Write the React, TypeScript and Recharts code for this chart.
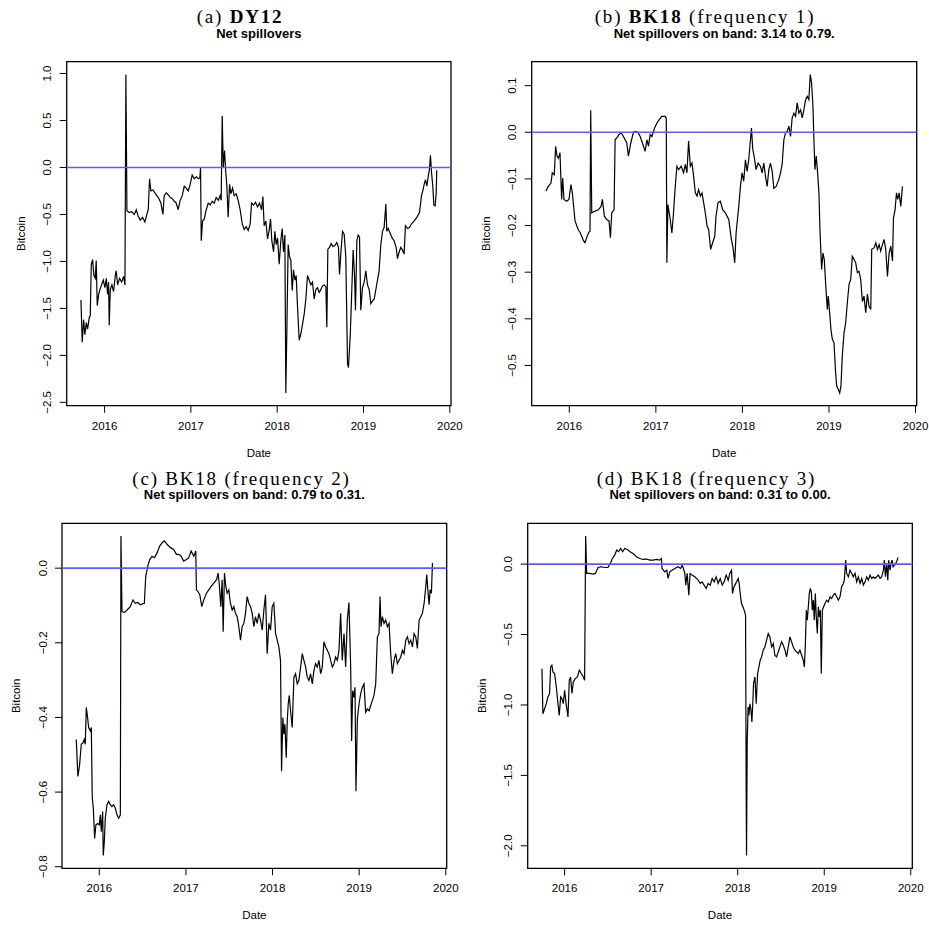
import React from 'react';
import { LineChart, Line, XAxis, YAxis, ReferenceLine, ReferenceArea } from 'recharts';

// ---------- data (decimal year, net spillover of Bitcoin) ----------
const yearTicks = [2016, 2017, 2018, 2019, 2020];
const dy12Ticks = [-2.5, -2.0, -1.5, -1.0, -0.5, 0.0, 0.5, 1.0];
const bk1Ticks = [-0.5, -0.4, -0.3, -0.2, -0.1, 0.0, 0.1];
const bk2Ticks = [-0.8, -0.6, -0.4, -0.2, 0.0];
const bk3Ticks = [-2.0, -1.5, -1.0, -0.5, 0.0];

const dy12Net: [number, number][] = [
  [2015.726,-1.41],[2015.741,-1.86],[2015.757,-1.62],[2015.772,-1.78],[2015.788,-1.65],[2015.803,-1.72],[2015.822,-1.60],[2015.834,-1.58],[2015.846,-1.03],[2015.861,-0.98],[2015.876,-1.15],[2015.892,-1.18],[2015.903,-0.99],[2015.915,-1.47],[2015.931,-1.35],[2015.946,-1.30],[2015.965,-1.25],[2015.985,-1.20],[2016.004,-1.28],[2016.019,-1.18],[2016.035,-1.35],[2016.046,-1.22],[2016.054,-1.68],[2016.066,-1.30],[2016.085,-1.25],[2016.104,-1.32],[2016.124,-1.15],[2016.135,-1.10],[2016.151,-1.25],[2016.174,-1.18],[2016.197,-1.22],[2016.220,-1.16],[2016.236,-1.25],[2016.247,0.99],[2016.259,-0.46],[2016.286,-0.48],[2016.313,-0.47],[2016.344,-0.50],[2016.367,-0.45],[2016.390,-0.52],[2016.413,-0.56],[2016.440,-0.53],[2016.467,-0.58],[2016.490,-0.50],[2016.506,-0.45],[2016.521,-0.12],[2016.537,-0.25],[2016.560,-0.24],[2016.583,-0.27],[2016.606,-0.30],[2016.629,-0.33],[2016.653,-0.38],[2016.676,-0.50],[2016.691,-0.30],[2016.714,-0.27],[2016.737,-0.29],[2016.761,-0.32],[2016.784,-0.33],[2016.807,-0.36],[2016.830,-0.38],[2016.853,-0.45],[2016.876,-0.35],[2016.900,-0.30],[2016.923,-0.20],[2016.946,-0.22],[2016.969,-0.25],[2016.992,-0.18],[2017.015,-0.08],[2017.039,-0.12],[2017.062,-0.10],[2017.085,-0.12],[2017.104,-0.11],[2017.112,0.00],[2017.120,-0.78],[2017.135,-0.57],[2017.154,-0.55],[2017.178,-0.45],[2017.201,-0.38],[2017.224,-0.40],[2017.247,-0.36],[2017.270,-0.38],[2017.293,-0.32],[2017.317,-0.35],[2017.340,-0.30],[2017.351,-0.35],[2017.363,0.55],[2017.375,0.00],[2017.390,0.18],[2017.402,-0.02],[2017.417,-0.20],[2017.432,-0.53],[2017.448,-0.18],[2017.463,-0.28],[2017.483,-0.22],[2017.502,-0.30],[2017.525,-0.28],[2017.548,-0.35],[2017.571,-0.45],[2017.595,-0.60],[2017.618,-0.66],[2017.641,-0.63],[2017.664,-0.67],[2017.687,-0.60],[2017.703,-0.38],[2017.726,-0.40],[2017.749,-0.37],[2017.772,-0.42],[2017.795,-0.38],[2017.819,-0.45],[2017.834,-0.31],[2017.849,-0.62],[2017.869,-0.57],[2017.888,-0.76],[2017.907,-0.67],[2017.923,-0.55],[2017.938,-0.78],[2017.958,-0.90],[2017.973,-0.68],[2017.988,-0.82],[2018.004,-0.75],[2018.023,-1.03],[2018.042,-0.78],[2018.058,-0.65],[2018.073,-0.90],[2018.089,-0.72],[2018.100,-2.40],[2018.112,-1.74],[2018.127,-0.82],[2018.143,-0.95],[2018.158,-0.99],[2018.174,-1.31],[2018.189,-1.09],[2018.205,-1.20],[2018.220,-1.15],[2018.236,-1.49],[2018.255,-1.84],[2018.274,-1.77],[2018.293,-1.67],[2018.313,-1.56],[2018.332,-1.40],[2018.351,-1.15],[2018.371,-1.20],[2018.390,-1.25],[2018.409,-1.22],[2018.429,-1.40],[2018.448,-1.30],[2018.467,-1.28],[2018.486,-1.33],[2018.506,-1.30],[2018.525,-1.26],[2018.544,-1.25],[2018.564,-1.27],[2018.575,-1.70],[2018.587,-0.87],[2018.606,-0.85],[2018.625,-0.81],[2018.645,-0.84],[2018.668,-0.83],[2018.691,-0.80],[2018.710,-0.85],[2018.722,-1.14],[2018.737,-0.92],[2018.757,-0.68],[2018.776,-0.71],[2018.795,-0.95],[2018.815,-2.09],[2018.826,-2.13],[2018.846,-1.80],[2018.861,-1.40],[2018.880,-0.88],[2018.896,-1.15],[2018.907,-1.52],[2018.923,-0.78],[2018.938,-0.72],[2018.954,-0.74],[2018.969,-1.52],[2018.988,-1.28],[2019.008,-1.22],[2019.027,-1.10],[2019.046,-1.25],[2019.066,-1.30],[2019.085,-1.45],[2019.104,-1.42],[2019.124,-1.40],[2019.143,-1.30],[2019.162,-1.20],[2019.181,-1.10],[2019.201,-0.82],[2019.220,-0.68],[2019.239,-0.64],[2019.259,-0.39],[2019.270,-0.68],[2019.286,-0.65],[2019.309,-0.70],[2019.332,-0.75],[2019.355,-0.78],[2019.378,-0.85],[2019.394,-0.97],[2019.413,-0.90],[2019.432,-0.85],[2019.452,-0.88],[2019.471,-0.92],[2019.486,-0.62],[2019.510,-0.65],[2019.533,-0.64],[2019.556,-0.60],[2019.579,-0.58],[2019.602,-0.55],[2019.625,-0.52],[2019.649,-0.48],[2019.672,-0.30],[2019.687,-0.25],[2019.703,-0.18],[2019.718,-0.13],[2019.734,-0.20],[2019.749,-0.10],[2019.764,-0.02],[2019.776,0.13],[2019.788,-0.05],[2019.803,-0.20],[2019.815,-0.40],[2019.830,-0.41],[2019.842,-0.28],[2019.849,-0.03],
];

const bkFreq1: [number, number][] = [
  [2015.730,-0.126],[2015.757,-0.116],[2015.788,-0.109],[2015.803,-0.087],[2015.826,-0.091],[2015.842,-0.030],[2015.857,-0.051],[2015.873,-0.056],[2015.892,-0.044],[2015.911,-0.144],[2015.923,-0.098],[2015.938,-0.144],[2015.969,-0.148],[2015.996,-0.144],[2016.019,-0.112],[2016.035,-0.130],[2016.066,-0.190],[2016.085,-0.200],[2016.104,-0.209],[2016.124,-0.215],[2016.143,-0.223],[2016.162,-0.232],[2016.181,-0.237],[2016.197,-0.228],[2016.212,-0.220],[2016.228,-0.214],[2016.239,-0.212],[2016.247,0.047],[2016.259,-0.173],[2016.297,-0.169],[2016.336,-0.166],[2016.367,-0.159],[2016.382,-0.144],[2016.405,-0.180],[2016.432,-0.187],[2016.459,-0.190],[2016.475,-0.226],[2016.490,-0.173],[2016.517,-0.166],[2016.529,-0.016],[2016.548,-0.012],[2016.575,-0.005],[2016.598,-0.001],[2016.625,-0.009],[2016.664,-0.023],[2016.683,-0.051],[2016.710,-0.023],[2016.741,0.000],[2016.768,0.002],[2016.792,0.000],[2016.819,-0.009],[2016.857,-0.030],[2016.876,-0.041],[2016.896,-0.016],[2016.915,-0.030],[2016.934,-0.005],[2016.954,-0.009],[2016.985,0.009],[2017.012,0.020],[2017.039,0.027],[2017.069,0.034],[2017.108,0.034],[2017.120,0.030],[2017.127,-0.280],[2017.139,-0.155],[2017.154,-0.173],[2017.166,-0.187],[2017.185,-0.216],[2017.201,-0.180],[2017.224,-0.116],[2017.243,-0.073],[2017.263,-0.080],[2017.293,-0.073],[2017.320,-0.087],[2017.340,-0.069],[2017.359,-0.087],[2017.378,-0.019],[2017.398,-0.073],[2017.417,-0.066],[2017.436,-0.094],[2017.456,-0.130],[2017.475,-0.137],[2017.494,-0.123],[2017.514,-0.137],[2017.533,-0.130],[2017.552,-0.151],[2017.571,-0.173],[2017.591,-0.200],[2017.610,-0.209],[2017.633,-0.251],[2017.656,-0.237],[2017.680,-0.223],[2017.695,-0.180],[2017.718,-0.151],[2017.745,-0.148],[2017.772,-0.166],[2017.803,-0.173],[2017.842,-0.187],[2017.873,-0.230],[2017.892,-0.248],[2017.911,-0.280],[2017.927,-0.216],[2017.946,-0.180],[2017.958,-0.159],[2017.977,-0.116],[2017.996,-0.087],[2018.015,-0.105],[2018.035,-0.059],[2018.054,-0.084],[2018.073,-0.059],[2018.093,-0.016],[2018.104,0.009],[2018.120,-0.037],[2018.135,-0.051],[2018.158,-0.080],[2018.181,-0.066],[2018.208,-0.073],[2018.228,-0.087],[2018.247,-0.066],[2018.266,-0.094],[2018.286,-0.116],[2018.305,-0.080],[2018.324,-0.066],[2018.344,-0.084],[2018.363,-0.120],[2018.390,-0.116],[2018.421,-0.101],[2018.440,-0.087],[2018.459,-0.069],[2018.479,-0.016],[2018.498,-0.001],[2018.517,0.002],[2018.537,0.013],[2018.556,-0.009],[2018.575,0.031],[2018.595,0.041],[2018.614,0.034],[2018.633,0.063],[2018.653,0.041],[2018.672,0.048],[2018.691,0.031],[2018.710,0.048],[2018.730,0.070],[2018.749,0.077],[2018.768,0.070],[2018.784,0.124],[2018.799,0.106],[2018.815,0.056],[2018.826,-0.016],[2018.838,-0.080],[2018.853,-0.051],[2018.869,-0.087],[2018.884,-0.130],[2018.896,-0.209],[2018.915,-0.294],[2018.931,-0.259],[2018.946,-0.273],[2018.961,-0.323],[2018.981,-0.380],[2018.992,-0.351],[2019.008,-0.387],[2019.023,-0.423],[2019.039,-0.444],[2019.058,-0.451],[2019.077,-0.516],[2019.089,-0.544],[2019.108,-0.551],[2019.124,-0.559],[2019.139,-0.544],[2019.154,-0.480],[2019.174,-0.430],[2019.193,-0.409],[2019.212,-0.366],[2019.232,-0.326],[2019.251,-0.316],[2019.270,-0.266],[2019.290,-0.273],[2019.309,-0.280],[2019.328,-0.301],[2019.347,-0.298],[2019.367,-0.316],[2019.386,-0.363],[2019.405,-0.351],[2019.425,-0.387],[2019.444,-0.347],[2019.463,-0.373],[2019.483,-0.380],[2019.494,-0.251],[2019.521,-0.248],[2019.541,-0.237],[2019.560,-0.251],[2019.579,-0.241],[2019.598,-0.255],[2019.618,-0.241],[2019.637,-0.230],[2019.656,-0.251],[2019.676,-0.309],[2019.695,-0.259],[2019.714,-0.244],[2019.734,-0.276],[2019.745,-0.184],[2019.764,-0.166],[2019.780,-0.130],[2019.795,-0.144],[2019.811,-0.130],[2019.830,-0.159],[2019.849,-0.116],
];

const bkFreq2: [number, number][] = [
  [2015.734,-0.459],[2015.753,-0.558],[2015.773,-0.526],[2015.792,-0.472],[2015.811,-0.468],[2015.827,-0.459],[2015.838,-0.472],[2015.850,-0.373],[2015.865,-0.400],[2015.877,-0.427],[2015.896,-0.436],[2015.908,-0.427],[2015.919,-0.616],[2015.931,-0.643],[2015.946,-0.724],[2015.961,-0.688],[2015.981,-0.684],[2016.000,-0.688],[2016.012,-0.661],[2016.023,-0.706],[2016.039,-0.652],[2016.046,-0.770],[2016.058,-0.733],[2016.069,-0.670],[2016.089,-0.634],[2016.108,-0.625],[2016.127,-0.634],[2016.146,-0.639],[2016.166,-0.634],[2016.185,-0.643],[2016.204,-0.661],[2016.224,-0.670],[2016.243,-0.661],[2016.250,0.086],[2016.262,-0.116],[2016.289,-0.119],[2016.320,-0.112],[2016.358,-0.103],[2016.389,-0.085],[2016.416,-0.094],[2016.443,-0.092],[2016.474,-0.098],[2016.505,-0.095],[2016.520,-0.094],[2016.536,-0.022],[2016.559,0.005],[2016.582,0.023],[2016.609,0.032],[2016.636,0.028],[2016.667,0.041],[2016.697,0.059],[2016.724,0.068],[2016.751,0.073],[2016.782,0.064],[2016.821,0.055],[2016.859,0.050],[2016.890,0.037],[2016.917,0.037],[2016.944,0.032],[2016.975,0.019],[2017.006,0.023],[2017.033,0.028],[2017.060,0.046],[2017.091,0.032],[2017.114,0.046],[2017.121,-0.058],[2017.137,-0.062],[2017.160,-0.071],[2017.183,-0.103],[2017.206,-0.085],[2017.237,-0.067],[2017.264,-0.058],[2017.291,-0.049],[2017.322,-0.040],[2017.353,-0.031],[2017.372,-0.013],[2017.387,-0.049],[2017.403,-0.103],[2017.418,-0.031],[2017.430,-0.170],[2017.445,-0.013],[2017.461,-0.049],[2017.476,-0.067],[2017.495,-0.058],[2017.514,-0.094],[2017.534,-0.112],[2017.553,-0.103],[2017.572,-0.121],[2017.592,-0.130],[2017.611,-0.157],[2017.630,-0.193],[2017.649,-0.157],[2017.669,-0.148],[2017.688,-0.121],[2017.707,-0.076],[2017.726,-0.094],[2017.746,-0.103],[2017.765,-0.121],[2017.784,-0.157],[2017.803,-0.130],[2017.823,-0.148],[2017.842,-0.121],[2017.861,-0.139],[2017.881,-0.166],[2017.900,-0.112],[2017.919,-0.071],[2017.938,-0.229],[2017.958,-0.148],[2017.977,-0.166],[2017.996,-0.103],[2018.015,-0.094],[2018.035,-0.175],[2018.054,-0.193],[2018.073,-0.211],[2018.092,-0.247],[2018.104,-0.544],[2018.119,-0.400],[2018.131,-0.445],[2018.143,-0.418],[2018.158,-0.508],[2018.170,-0.409],[2018.181,-0.364],[2018.193,-0.341],[2018.208,-0.382],[2018.227,-0.427],[2018.247,-0.292],[2018.266,-0.283],[2018.285,-0.310],[2018.304,-0.301],[2018.324,-0.265],[2018.343,-0.229],[2018.362,-0.247],[2018.382,-0.265],[2018.401,-0.292],[2018.420,-0.301],[2018.439,-0.283],[2018.459,-0.310],[2018.478,-0.274],[2018.497,-0.256],[2018.516,-0.265],[2018.536,-0.247],[2018.555,-0.283],[2018.574,-0.265],[2018.593,-0.197],[2018.613,-0.211],[2018.632,-0.220],[2018.651,-0.229],[2018.671,-0.247],[2018.690,-0.265],[2018.709,-0.256],[2018.728,-0.238],[2018.748,-0.247],[2018.767,-0.220],[2018.786,-0.121],[2018.805,-0.247],[2018.825,-0.175],[2018.844,-0.265],[2018.863,-0.139],[2018.882,-0.092],[2018.902,-0.265],[2018.913,-0.463],[2018.925,-0.328],[2018.940,-0.346],[2018.952,-0.319],[2018.963,-0.598],[2018.979,-0.405],[2018.998,-0.364],[2019.017,-0.337],[2019.037,-0.319],[2019.056,-0.310],[2019.075,-0.386],[2019.094,-0.377],[2019.114,-0.382],[2019.133,-0.368],[2019.152,-0.355],[2019.171,-0.341],[2019.191,-0.310],[2019.210,-0.184],[2019.229,-0.175],[2019.241,-0.076],[2019.252,-0.157],[2019.268,-0.130],[2019.287,-0.148],[2019.306,-0.139],[2019.326,-0.157],[2019.345,-0.148],[2019.364,-0.229],[2019.383,-0.283],[2019.403,-0.247],[2019.422,-0.229],[2019.441,-0.256],[2019.461,-0.247],[2019.480,-0.238],[2019.499,-0.220],[2019.518,-0.229],[2019.538,-0.193],[2019.557,-0.184],[2019.576,-0.202],[2019.595,-0.193],[2019.615,-0.211],[2019.634,-0.175],[2019.653,-0.184],[2019.672,-0.215],[2019.692,-0.139],[2019.711,-0.130],[2019.730,-0.121],[2019.750,-0.094],[2019.769,-0.049],[2019.780,-0.017],[2019.796,-0.067],[2019.807,-0.098],[2019.819,-0.058],[2019.834,-0.067],[2019.846,0.014],
];

const bkFreq3: [number, number][] = [
  [2015.738,-0.742],[2015.749,-1.062],[2015.769,-1.027],[2015.788,-0.991],[2015.807,-0.943],[2015.826,-0.919],[2015.838,-0.730],[2015.853,-0.718],[2015.865,-0.765],[2015.884,-0.777],[2015.904,-0.872],[2015.923,-0.991],[2015.938,-1.074],[2015.954,-0.943],[2015.969,-0.955],[2015.985,-0.991],[2016.000,-0.896],[2016.019,-1.000],[2016.039,-1.085],[2016.054,-0.825],[2016.069,-0.801],[2016.085,-0.919],[2016.100,-0.836],[2016.123,-0.813],[2016.147,-0.801],[2016.170,-0.754],[2016.193,-0.777],[2016.216,-0.801],[2016.231,-0.825],[2016.243,0.199],[2016.255,-0.066],[2016.289,-0.066],[2016.328,-0.071],[2016.355,-0.066],[2016.386,-0.024],[2016.424,-0.019],[2016.463,-0.024],[2016.501,-0.024],[2016.528,0.005],[2016.552,0.040],[2016.579,0.064],[2016.602,0.100],[2016.625,0.088],[2016.648,0.111],[2016.671,0.088],[2016.694,0.111],[2016.725,0.104],[2016.756,0.088],[2016.791,0.076],[2016.829,0.052],[2016.868,0.040],[2016.906,0.033],[2016.945,0.036],[2016.984,0.028],[2017.022,0.028],[2017.061,0.033],[2017.099,0.028],[2017.119,0.040],[2017.126,-0.031],[2017.142,-0.043],[2017.157,-0.055],[2017.180,-0.043],[2017.196,-0.102],[2017.215,-0.055],[2017.242,-0.043],[2017.273,-0.031],[2017.311,-0.019],[2017.342,-0.031],[2017.358,-0.007],[2017.373,-0.031],[2017.389,-0.066],[2017.400,-0.149],[2017.416,-0.066],[2017.435,-0.220],[2017.450,-0.066],[2017.473,-0.078],[2017.504,-0.090],[2017.543,-0.114],[2017.566,-0.137],[2017.589,-0.126],[2017.612,-0.149],[2017.636,-0.173],[2017.659,-0.137],[2017.682,-0.149],[2017.705,-0.102],[2017.728,-0.126],[2017.751,-0.090],[2017.774,-0.137],[2017.798,-0.102],[2017.821,-0.149],[2017.844,-0.126],[2017.867,-0.078],[2017.890,-0.114],[2017.909,-0.066],[2017.929,-0.043],[2017.940,-0.209],[2017.952,-0.173],[2017.967,-0.149],[2017.987,-0.126],[2018.006,-0.102],[2018.017,-0.137],[2018.029,-0.209],[2018.044,-0.280],[2018.060,-0.303],[2018.075,-0.327],[2018.091,-0.363],[2018.098,-1.607],[2018.102,-2.069],[2018.110,-1.251],[2018.121,-1.014],[2018.129,-1.073],[2018.141,-0.991],[2018.152,-1.027],[2018.164,-1.121],[2018.176,-0.967],[2018.183,-0.848],[2018.199,-0.801],[2018.214,-0.991],[2018.230,-0.777],[2018.245,-0.730],[2018.260,-0.682],[2018.276,-0.659],[2018.295,-0.611],[2018.314,-0.588],[2018.334,-0.540],[2018.353,-0.493],[2018.372,-0.517],[2018.392,-0.588],[2018.411,-0.564],[2018.430,-0.647],[2018.449,-0.659],[2018.469,-0.623],[2018.488,-0.588],[2018.507,-0.552],[2018.527,-0.576],[2018.546,-0.611],[2018.565,-0.659],[2018.584,-0.588],[2018.604,-0.517],[2018.623,-0.552],[2018.642,-0.588],[2018.662,-0.611],[2018.681,-0.623],[2018.700,-0.635],[2018.719,-0.611],[2018.739,-0.647],[2018.758,-0.682],[2018.770,-0.730],[2018.781,-0.588],[2018.793,-0.327],[2018.804,-0.398],[2018.816,-0.303],[2018.827,-0.209],[2018.839,-0.173],[2018.851,-0.197],[2018.862,-0.327],[2018.874,-0.256],[2018.885,-0.398],[2018.897,-0.209],[2018.908,-0.374],[2018.920,-0.493],[2018.932,-0.303],[2018.943,-0.374],[2018.955,-0.327],[2018.966,-0.777],[2018.978,-0.327],[2018.993,-0.303],[2019.009,-0.280],[2019.028,-0.256],[2019.047,-0.268],[2019.067,-0.232],[2019.086,-0.244],[2019.105,-0.220],[2019.124,-0.209],[2019.144,-0.232],[2019.163,-0.256],[2019.182,-0.232],[2019.201,-0.161],[2019.221,-0.137],[2019.232,-0.114],[2019.248,0.028],[2019.259,-0.066],[2019.279,-0.090],[2019.298,-0.043],[2019.317,-0.066],[2019.336,-0.090],[2019.356,-0.066],[2019.375,-0.126],[2019.394,-0.090],[2019.414,-0.137],[2019.433,-0.102],[2019.452,-0.149],[2019.472,-0.126],[2019.491,-0.090],[2019.510,-0.114],[2019.529,-0.078],[2019.549,-0.102],[2019.568,-0.090],[2019.587,-0.102],[2019.607,-0.090],[2019.626,-0.078],[2019.645,-0.102],[2019.664,-0.090],[2019.684,-0.043],[2019.695,0.028],[2019.707,-0.090],[2019.722,0.005],[2019.734,-0.114],[2019.745,0.028],[2019.761,-0.043],[2019.772,0.005],[2019.784,0.028],[2019.796,-0.019],[2019.811,-0.007],[2019.826,0.005],[2019.842,0.028],[2019.853,0.047],
];

// ---------- helpers ----------
const SANS = '"Liberation Sans", Arial, Helvetica, sans-serif';
const SERIF = '"Liberation Serif", "Times New Roman", serif';

function padded(vals: number[]): [number, number] {
  const lo = Math.min(...vals);
  const hi = Math.max(...vals);
  const p = (hi - lo) * 0.04;
  return [lo - p, hi + p];
}

const fmt = (v: number) => {
  const s = Math.abs(v).toFixed(1);
  return v < -1e-9 ? '\u2212' + s : s;
};

const YTick = (props: any) => {
  const { x, y, payload } = props;
  return (
    <text x={x} y={y} transform={`rotate(-90 ${x} ${y})`} textAnchor="middle" dy="0.36em"
      fontSize={11.5} fontFamily={SANS} fill="#000">{fmt(payload.value)}</text>
  );
};

const XTick = (props: any) => {
  const { x, y, payload } = props;
  return (
    <text x={x} y={y} textAnchor="middle" dy="0.71em" fontSize={11.5} fontFamily={SANS} fill="#000">
      {payload.value}
    </text>
  );
};

type PanelProps = {
  series: [number, number][];
  yTicks: number[];
  left: number; top: number; width: number; height: number;
  box: [number, number, number, number]; // x0, y0, x1, y1 in page coords
};

const YW = 50;
const XH = 40;

function Panel({ series, yTicks, left, top, width, height, box }: PanelProps) {
  const data = series.map(([x, y]) => ({ x, y }));
  const xd = padded(series.map((d) => d[0]));
  const yd = padded(series.map((d) => d[1]));
  const margin = {
    top: box[1] - top,
    right: left + width - box[2],
    bottom: top + height - box[3] - XH,
    left: box[0] - left - YW,
  };
  return (
    <div style={{ position: 'absolute', left, top, width, height }}>
      <LineChart width={width} height={height} data={data} margin={margin}>
        <XAxis dataKey="x" type="number" domain={xd} ticks={yearTicks} interval={0}
          allowDataOverflow height={XH} axisLine={false} tickSize={7} tickMargin={9}
          tickLine={{ stroke: '#000', strokeWidth: 1 }} tick={<XTick />} />
        <YAxis type="number" domain={yd} ticks={yTicks} interval={0} allowDataOverflow
          width={YW} axisLine={false} tickSize={7} tickMargin={12.4}
          tickLine={{ stroke: '#000', strokeWidth: 1 }} tick={<YTick />} />
        <Line type="linear" dataKey="y" stroke="#000" strokeWidth={1.2} dot={false}
          isAnimationActive={false} />
        <ReferenceLine y={0} stroke="#5c5cff" strokeWidth={1.6} ifOverflow="visible" />
        <ReferenceArea x1={xd[0]} x2={xd[1]} y1={yd[0]} y2={yd[1]} fill="none" fillOpacity={0}
          stroke="#000" strokeWidth={1.3} ifOverflow="visible" />
      </LineChart>
    </div>
  );
}

type Lbl = {
  box: [number, number, number, number];
  titleX: number; titleY: number; subY: number;
  title: React.ReactNode; sub: string;
};

function Labels({ box, titleX, titleY, subY, title, sub }: Lbl) {
  const cx = (box[0] + box[2]) / 2;
  const cy = (box[1] + box[3]) / 2;
  const bx = box[0] - 46;
  return (
    <g>
      <text x={titleX} y={titleY} textAnchor="middle" fontFamily={SERIF} fontSize={19}
        letterSpacing={1.8} fill="#000">{title}</text>
      <text x={cx} y={subY} textAnchor="middle" fontFamily={SANS} fontSize={13}
        fontWeight="bold" fill="#000">{sub}</text>
      <text x={cx} y={box[3] + 51} textAnchor="middle" fontFamily={SANS} fontSize={11.5}
        fill="#000">Date</text>
      <text x={bx} y={cy} transform={`rotate(-90 ${bx} ${cy})`} textAnchor="middle" dy="0.36em"
        fontFamily={SANS} fontSize={11.5} fill="#000">Bitcoin</text>
    </g>
  );
}

const boxA: [number, number, number, number] = [66.7, 61.7, 451, 405.7];
const boxB: [number, number, number, number] = [531.7, 61.7, 916.7, 405.7];
const boxC: [number, number, number, number] = [62, 523.3, 446.7, 868.3];
const boxD: [number, number, number, number] = [527.7, 523.3, 912.3, 868.3];

export default function App() {
  return (
    <div style={{ position: 'absolute', left: 0, top: 0, width: 929, height: 925, background: '#fff', overflow: 'hidden' }}>
      <Panel series={dy12Net} yTicks={dy12Ticks} left={0} top={0} width={465} height={462} box={boxA} />
      <Panel series={bkFreq1} yTicks={bk1Ticks} left={465} top={0} width={464} height={462} box={boxB} />
      <Panel series={bkFreq2} yTicks={bk2Ticks} left={0} top={462} width={465} height={463} box={boxC} />
      <Panel series={bkFreq3} yTicks={bk3Ticks} left={465} top={462} width={464} height={463} box={boxD} />
      <svg width={929} height={925} style={{ position: 'absolute', left: 0, top: 0, pointerEvents: 'none' }}>
        <Labels box={boxA} titleX={240} titleY={23} subY={37.7} sub="Net spillovers"
          title={<>(a) <tspan fontWeight="bold">DY12</tspan></>} />
        <Labels box={boxB} titleX={705} titleY={23} subY={37.5} sub="Net spillovers on band: 3.14 to 0.79."
          title={<>(b) <tspan fontWeight="bold">BK18</tspan> (frequency 1)</>} />
        <Labels box={boxC} titleX={241.5} titleY={484.5} subY={499} sub="Net spillovers on band: 0.79 to 0.31."
          title={<>(c) BK18 (frequency 2)</>} />
        <Labels box={boxD} titleX={706.5} titleY={484.5} subY={499} sub="Net spillovers on band: 0.31 to 0.00."
          title={<>(d) BK18 (frequency 3)</>} />
      </svg>
    </div>
  );
}
